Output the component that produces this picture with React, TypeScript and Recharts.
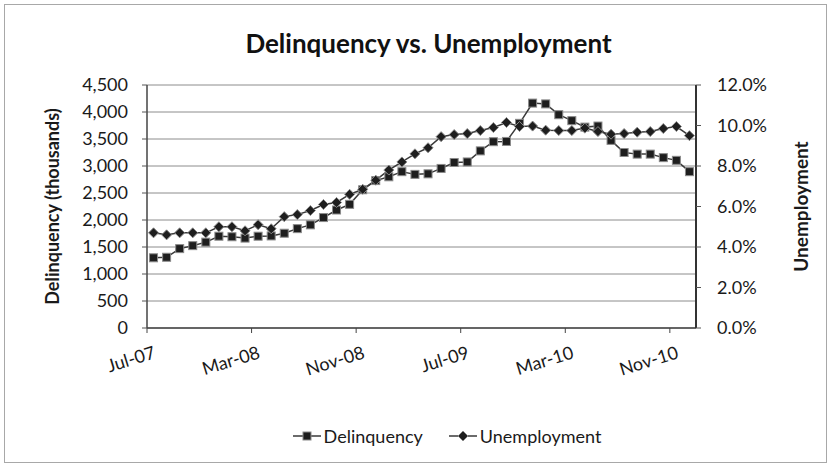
import React from 'react';
import { LineChart, Line, XAxis, YAxis, CartesianGrid, Legend } from 'recharts';

const months = [
  'Jul-07', 'Aug-07', 'Sep-07', 'Oct-07', 'Nov-07', 'Dec-07',
  'Jan-08', 'Feb-08', 'Mar-08', 'Apr-08', 'May-08', 'Jun-08', 'Jul-08', 'Aug-08', 'Sep-08', 'Oct-08', 'Nov-08', 'Dec-08',
  'Jan-09', 'Feb-09', 'Mar-09', 'Apr-09', 'May-09', 'Jun-09', 'Jul-09', 'Aug-09', 'Sep-09', 'Oct-09', 'Nov-09', 'Dec-09',
  'Jan-10', 'Feb-10', 'Mar-10', 'Apr-10', 'May-10', 'Jun-10', 'Jul-10', 'Aug-10', 'Sep-10', 'Oct-10', 'Nov-10', 'Dec-10',
];

const delinquency = [
  1300, 1310, 1470, 1525, 1590, 1700,
  1690, 1665, 1700, 1705, 1755, 1840, 1910, 2045, 2185, 2290, 2560, 2730,
  2800, 2895, 2845, 2855, 2955, 3065, 3075, 3280, 3450, 3455, 3790, 4165,
  4150, 3950, 3840, 3720, 3740, 3475, 3250, 3220, 3220, 3155, 3105, 2895,
];

const unemployment = [
  4.7, 4.6, 4.7, 4.7, 4.7, 5.0,
  5.0, 4.8, 5.1, 4.9, 5.5, 5.6, 5.8, 6.1, 6.2, 6.6, 6.85, 7.3,
  7.8, 8.2, 8.6, 8.9, 9.45, 9.55, 9.6, 9.75, 9.9, 10.15, 9.95, 9.97,
  9.77, 9.75, 9.75, 9.87, 9.7, 9.57, 9.6, 9.67, 9.7, 9.85, 9.95, 9.5,
];

const leftTicks = [0, 500, 1000, 1500, 2000, 2500, 3000, 3500, 4000, 4500];
const rightTicks = [0, 2, 4, 6, 8, 10, 12];

const data = months.map((m, i) => ({
  month: m,
  delinquency: delinquency[i],
  unemployment: unemployment[i],
}));

const W = 831;
const H = 467;
const FONT = 'Lato, "Open Sans", sans-serif';
const LINE = '#3a3a3a';
const MARK = '#1e1e1e';
const PLOT_W = W - 47 - 100 - 20 - 115;
const BAND = PLOT_W / months.length;

const SquareDot = (p: any) => {
  if (p.cx == null || p.cy == null) return <g key={p.key} />;
  return (
    <rect key={p.key} x={p.cx - 4} y={p.cy - 4} width={8} height={8}
      fill={MARK} stroke="#8a8a8a" strokeWidth={1} />
  );
};

const DiamondDot = (p: any) => {
  if (p.cx == null || p.cy == null) return <g key={p.key} />;
  const r = 5;
  return (
    <polygon key={p.key}
      points={`${p.cx},${p.cy - r} ${p.cx + r},${p.cy} ${p.cx},${p.cy + r} ${p.cx - r},${p.cy}`}
      fill={MARK} stroke="#8a8a8a" strokeWidth={1} />
  );
};

const XTick = (props: any) => {
  const { x, y, payload } = props;
  const tx = x + 3;
  const ty = y + 30;
  return (
    <g>
      <line x1={x - BAND / 2} x2={x - BAND / 2} y1={y} y2={y + 5} stroke="#444" />
      <text x={tx} y={ty} textAnchor="end" transform={`rotate(-17 ${tx} ${ty})`}
        fontFamily={FONT} fontSize={18} fill="#1a1a1a">
        {payload.value}
      </text>
    </g>
  );
};

const LeftTitle = (props: any) => {
  const vb = props.viewBox || {};
  const cx = vb.x + 5;
  const cy = vb.y + vb.height / 2;
  return (
    <text x={cx} y={cy} textAnchor="middle" dominantBaseline="central"
      transform={`rotate(-90 ${cx} ${cy})`} fontFamily={FONT} fontWeight={700}
      fontSize={18} fill="#1a1a1a">
      Delinquency (thousands)
    </text>
  );
};

const RightTitle = (props: any) => {
  const vb = props.viewBox || {};
  const cx = vb.x + 104;
  const cy = vb.y + vb.height / 2;
  return (
    <text x={cx} y={cy} textAnchor="middle" dominantBaseline="central"
      transform={`rotate(-90 ${cx} ${cy})`} fontFamily={FONT} fontWeight={700}
      fontSize={19} fill="#1a1a1a">
      Unemployment
    </text>
  );
};

const LegendIcon = ({ kind }: { kind: 'square' | 'diamond' }) => (
  <svg width={28} height={14} style={{ marginRight: 3 }}>
    <line x1={0} x2={28} y1={7} y2={7} stroke={LINE} strokeWidth={1.5} />
    {kind === 'square' ? (
      <rect x={10} y={3} width={8} height={8} fill={MARK} stroke="#8a8a8a" />
    ) : (
      <polygon points="14,2 19,7 14,12 9,7" fill={MARK} stroke="#8a8a8a" />
    )}
  </svg>
);

const LegendContent = () => (
  <div style={{ display: 'flex', justifyContent: 'center', alignItems: 'center', fontFamily: FONT, fontSize: 18, color: '#1a1a1a', height: 24, paddingLeft: 36, boxSizing: 'border-box' }}>
    <div style={{ display: 'flex', alignItems: 'center', marginRight: 26 }}>
      <LegendIcon kind="square" />
      <span>Delinquency</span>
    </div>
    <div style={{ display: 'flex', alignItems: 'center' }}>
      <LegendIcon kind="diamond" />
      <span>Unemployment</span>
    </div>
  </div>
);

export default function App() {
  return (
    <div style={{ position: 'absolute', left: 0, top: 0, width: W, height: H, background: '#fff' }}>
      <div style={{ position: 'absolute', left: 4, top: 4, width: 821, height: 457, border: '1px solid #a8a8a8' }} />
      <div style={{ position: 'absolute', left: 0, top: 27, width: W, textAlign: 'center', paddingLeft: 26, boxSizing: 'border-box', fontFamily: FONT, fontWeight: 700, fontSize: 26, color: '#111', lineHeight: '32px' }}>
        Delinquency vs. Unemployment
      </div>
      <LineChart width={W} height={H} data={data}
        margin={{ top: 85, right: 20, bottom: 19, left: 47 }}>
        <CartesianGrid yAxisId="left" vertical={false} stroke="#8c8c8c" strokeWidth={1} />
        <XAxis dataKey="month" scale="band" interval={7} tick={<XTick />} tickLine={false}
          tickSize={0} tickMargin={0} height={96} axisLine={{ stroke: '#444', strokeWidth: 1.5 }} />
        <YAxis yAxisId="left" domain={[0, 4500]} ticks={leftTicks} width={100}
          tickFormatter={(v: number) => v.toLocaleString('en-US')}
          tick={{ fontFamily: FONT, fontSize: 18, fill: '#1a1a1a' }}
          tickSize={5} tickMargin={14}
          axisLine={{ stroke: '#444', strokeWidth: 1.5 }} tickLine={{ stroke: '#555' }}
          label={{ content: <LeftTitle /> }} />
        <YAxis yAxisId="right" orientation="right" domain={[0, 12]} ticks={rightTicks} width={115}
          tickFormatter={(v: number) => `${v.toFixed(1)}%`}
          tick={{ fontFamily: FONT, fontSize: 18, fill: '#1a1a1a', textAnchor: 'start' }}
          tickSize={5} tickMargin={16}
          axisLine={{ stroke: '#333', strokeWidth: 2 }} tickLine={{ stroke: '#555' }}
          label={{ content: <RightTitle /> }} />
        <Legend verticalAlign="bottom" content={<LegendContent />}
          wrapperStyle={{ height: 24 }} />
        <Line yAxisId="left" dataKey="delinquency" name="Delinquency" stroke={LINE}
          strokeWidth={1.5} dot={SquareDot} isAnimationActive={false} />
        <Line yAxisId="right" dataKey="unemployment" name="Unemployment" stroke={LINE}
          strokeWidth={1.5} dot={DiamondDot} isAnimationActive={false} />
      </LineChart>
    </div>
  );
}
